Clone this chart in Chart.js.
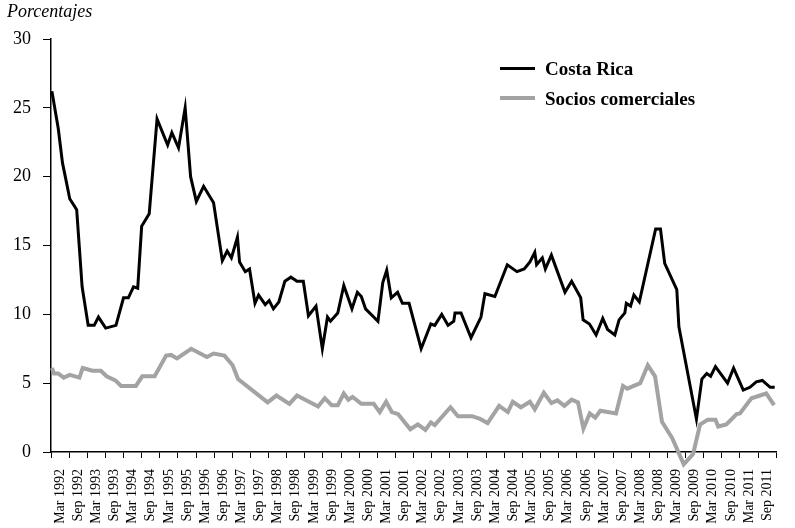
<!DOCTYPE html>
<html>
<head>
<meta charset="utf-8">
<script src="https://cdn.jsdelivr.net/npm/chart.js@4"></script>
<style>
  body { margin: 0; background: #fff; }
  #wrap { position: relative; width: 795px; height: 528px; font-family: "Liberation Serif", serif; }
  .txt { position: absolute; white-space: nowrap; color: #000; }
  .swatch { position: absolute; }
</style>
</head>
<body>
<div id="wrap">
  <canvas id="grafico" width="795" height="528"></canvas>
  <div class="txt" style="left:7px; top:2px; font-size:18px; line-height:18px; font-style:italic;">Porcentajes</div>
  <div class="swatch" style="left:500px; top:67px; width:35px; height:3px; background:#000;"></div>
  <div class="txt" style="left:545px; top:59px; font-size:19px; line-height:19px; font-weight:bold;">Costa Rica</div>
  <div class="swatch" style="left:500px; top:96px; width:35px; height:4px; background:#a3a3a3;"></div>
  <div class="txt" style="left:545px; top:89px; font-size:19px; line-height:19px; font-weight:bold;">Socios comerciales</div>
</div>
<script>
// etiquetas del eje (semestrales)
const etiquetas = [
  'Mar 1992','Sep 1992','Mar 1993','Sep 1993','Mar 1994','Sep 1994','Mar 1995','Sep 1995',
  'Mar 1996','Sep 1996','Mar 1997','Sep 1997','Mar 1998','Sep 1998','Mar 1999','Sep 1999',
  'Mar 2000','Sep 2000','Mar 2001','Sep 2001','Mar 2002','Sep 2002','Mar 2003','Sep 2003',
  'Mar 2004','Sep 2004','Mar 2005','Sep 2005','Mar 2006','Sep 2006','Mar 2007','Sep 2007',
  'Mar 2008','Sep 2008','Mar 2009','Sep 2009','Mar 2010','Sep 2010','Mar 2011','Sep 2011'
];

// meses desde mar 1992 y porcentaje
const crMeses = [0.3,2.4,3.8,5.1,6.2,8.5,10.3,12.3,14.3,15.7,18.1,21.5,24.0,25.6,27.3,28.7,30.0,32.5,35.1,38.6,
  40.0,42.2,44.4,46.2,48.1,50.5,53.8,56.7,58.3,59.7,61.7,62.4,64.3,65.7,67.5,68.7,70.9,72.2,73.6,75.4,
  77.4,79.4,81.4,83.5,85.2,87.7,89.8,91.5,92.5,94.9,96.9,99.6,101.4,102.7,104.1,108.2,109.8,111.1,112.6,114.7,
  116.3,118.5,122.5,125.7,127.0,129.3,131.4,133.3,133.7,135.7,139.0,142.3,143.6,146.9,151.0,154.2,156.6,158.5,160.1,160.7,
  162.6,163.6,165.6,170.1,172.3,175.3,176.1,178.2,180.4,182.6,184.2,186.6,188.0,189.9,190.4,191.8,192.9,194.7,200.1,201.7,
  203.1,207.1,207.8,213.6,215.4,217.0,218.3,219.9,223.9,225.9,229.1,231.3,233.4,235.4,238.0,239.5];
const crValores = [26.2,23.5,21.0,19.6,18.4,17.6,12.0,9.2,9.2,9.8,9.0,9.2,11.2,11.2,12.0,11.9,16.4,17.3,24.2,22.3,
  23.2,22.1,25.0,20.0,18.2,19.3,18.1,13.9,14.6,14.1,15.6,13.8,13.1,13.3,10.8,11.4,10.7,11.0,10.4,10.9,
  12.4,12.7,12.4,12.4,9.9,10.6,7.5,9.8,9.5,10.1,12.1,10.4,11.6,11.3,10.4,9.5,12.3,13.2,11.2,11.6,
  10.8,10.8,7.5,9.3,9.2,10.0,9.2,9.5,10.1,10.1,8.3,9.8,11.5,11.3,13.6,13.1,13.3,13.8,14.5,13.6,
  14.1,13.3,14.3,11.6,12.4,11.2,9.6,9.3,8.5,9.7,8.9,8.5,9.6,10.1,10.8,10.6,11.4,10.9,16.2,16.2,
  13.7,11.8,9.1,2.4,5.3,5.7,5.5,6.2,5.0,6.1,4.5,4.7,5.1,5.2,4.7,4.7];

const sociosMeses = [0.3,1.0,2.4,4.2,6.2,9.4,10.5,13.7,16.5,18.4,21.3,23.2,28.1,30.2,34.3,38.1,39.7,41.7,46.4,51.6,
  53.8,57.4,60.1,61.9,71.7,74.6,78.9,81.4,88.4,90.6,92.9,94.9,96.9,98.4,99.8,102.7,106.8,108.8,110.9,112.8,
  114.9,118.9,121.4,123.9,125.7,127.0,132.2,134.7,139.3,142.0,144.5,148.3,151.2,152.8,155.5,158.5,160.1,163.1,165.6,167.6,
  169.9,172.3,174.4,176.2,178.3,180.1,181.8,187.0,189.3,190.7,195.0,197.5,199.9,202.2,205.6,209.4,212.5,214.8,217.4,219.9,
  220.8,223.5,226.9,228.0,231.8,236.7,239.3];
const sociosValores = [6.1,5.7,5.7,5.4,5.6,5.4,6.1,5.9,5.9,5.5,5.2,4.8,4.8,5.5,5.5,7.0,7.05,6.8,7.5,6.9,
  7.15,7.0,6.3,5.3,3.6,4.1,3.5,4.1,3.3,3.9,3.4,3.4,4.25,3.8,4.0,3.5,3.5,2.9,3.65,2.9,
  2.75,1.65,2.0,1.6,2.15,1.95,3.25,2.6,2.6,2.4,2.1,3.35,2.9,3.65,3.25,3.65,3.1,4.3,3.55,3.75,
  3.35,3.8,3.6,1.7,2.8,2.5,3.0,2.8,4.8,4.6,5.0,6.3,5.5,2.2,1.0,-0.9,-0.15,2.0,2.35,2.35,
  1.85,2.0,2.75,2.8,3.9,4.25,3.4];

const yTicks = [0, 5, 10, 15, 20, 25, 30];

const puntos = (xs, ys) => xs.map((m, i) => ({ x: m, y: ys[i] }));

Chart.defaults.font.family = '"Liberation Serif", serif';
Chart.defaults.color = '#000';

new Chart(document.getElementById('grafico'), {
  type: 'line',
  data: {
    labels: etiquetas,
    datasets: [
      {
        label: 'Costa Rica',
        data: puntos(crMeses, crValores),
        xAxisID: 'xm',
        borderColor: '#000',
        borderWidth: 3,
        pointRadius: 0,
        tension: 0,
        clip: false
      },
      {
        label: 'Socios comerciales',
        data: puntos(sociosMeses, sociosValores),
        xAxisID: 'xm',
        borderColor: '#a3a3a3',
        borderWidth: 4,
        pointRadius: 0,
        tension: 0,
        clip: false
      }
    ]
  },
  options: {
    responsive: false,
    animation: false,
    layout: { padding: { top: 39, right: 5, left: 0, bottom: 0 } },
    plugins: { legend: { display: false }, tooltip: { enabled: false } },
    scales: {
      x: {
        type: 'category',
        position: 'bottom',
        offset: true,
        grid: { offset: true, drawOnChartArea: false, tickLength: 6, color: '#000', lineWidth: 1 },
        border: { display: true, color: '#000', width: 1.5 },
        ticks: { autoSkip: false, maxRotation: 90, minRotation: 90, padding: 11, font: { size: 14 } },
        afterFit: (s) => { s.height = 76; }
      },
      xm: {
        type: 'linear',
        display: false,
        min: 0,
        max: 240
      },
      y: {
        min: 0,
        max: 30,
        afterBuildTicks: (s) => { s.ticks = yTicks.map(v => ({ value: v })); },
        grid: { drawOnChartArea: false, tickLength: 8, color: '#000', lineWidth: 1 },
        border: { display: true, color: '#000', width: 1.5 },
        ticks: { padding: 12, font: { size: 18 } },
        afterFit: (s) => { s.width = 51; }
      }
    }
  }
});
</script>
</body>
</html>
